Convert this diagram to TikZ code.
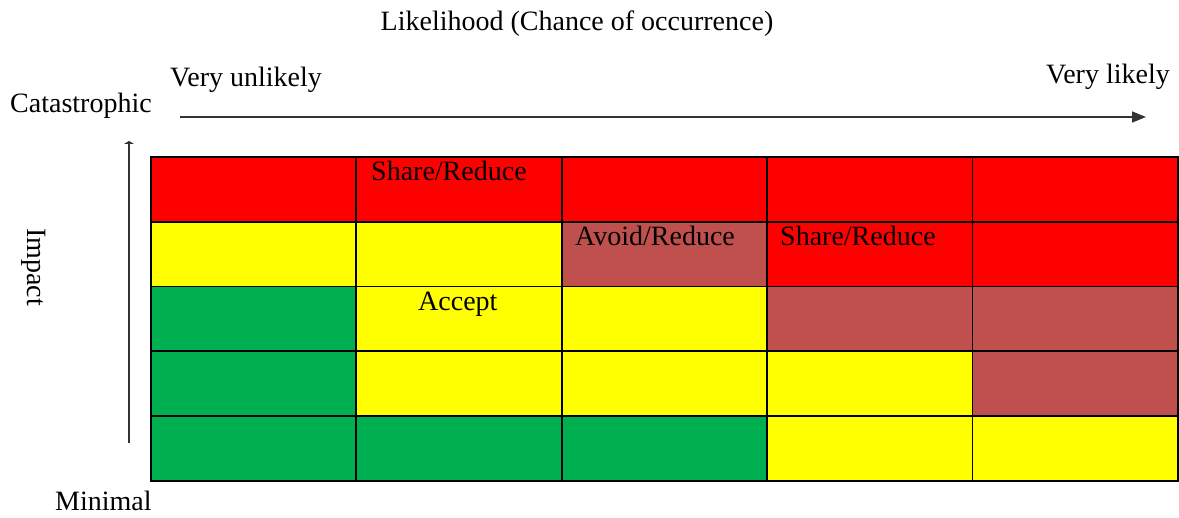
\documentclass[tikz,border=0pt]{standalone}
\usepackage{fontspec}
\setmainfont{Liberation Serif}
\usetikzlibrary{arrows.meta}
\definecolor{cred}{HTML}{FF0000}
\definecolor{cyel}{HTML}{FFFF00}
\definecolor{cgrn}{HTML}{00B050}
\definecolor{cbrn}{HTML}{C0504D}
\definecolor{axisgray}{HTML}{333333}
\begin{document}
\begin{tikzpicture}[x=1pt,y=-1pt,
  lbl/.style={inner sep=0pt,anchor=base west,font=\fontsize{28}{32}\selectfont},
  cell/.style={draw=black,line width=1.8pt,minimum width=205.4pt,minimum height=64.8pt,inner sep=0pt,anchor=north west},
  axisline/.style={draw=axisgray,line width=1.6pt}]
\useasboundingbox (0,0) rectangle (1179,518);
\fill[white] (0,0) rectangle (1179,518);
% grid
\foreach \r/\cols in {0/{cred,cred,cred,cred,cred},1/{cyel,cyel,cbrn,cred,cred},2/{cgrn,cyel,cyel,cbrn,cbrn},3/{cgrn,cyel,cyel,cyel,cbrn},4/{cgrn,cgrn,cgrn,cyel,cyel}}{
  \foreach \c [count=\i from 0] in \cols {
    \node[cell,fill=\c] (c\r\i) at (150+\i*205.4,156+\r*64.8) {};
  }
}
% cell labels
\node[lbl] (t1) at (371,181) {Share/Reduce};
\node[lbl] (t2) at (575,246) {Avoid/Reduce};
\node[lbl] (t3) at (780,246) {Share/Reduce};
\node[lbl] (t4) at (418,311) {Accept};
% axis labels
\node[lbl,anchor=base] (title) at (577,31) {Likelihood (Chance of occurrence)};
\node[lbl] (vu) at (170,87) {Very unlikely};
\node[lbl,anchor=base east] (vl) at (1170,84) {Very likely};
\node[lbl] (cat) at (10,113) {Catastrophic};
\node[lbl] (mini) at (55,511) {Minimal};
\node[lbl,anchor=center,rotate=-90] (imp) at (34,267) {Impact};
% arrows
\coordinate (h0) at (180,117);
\coordinate (h1) at (1146,117);
\draw[axisline,-{Triangle[length=14pt,width=11pt]}] (h0) -- (h1);
\coordinate (v0) at (129,443);
\coordinate (v1) at (129,141);
\draw[axisline,-{Triangle[length=3pt,width=10pt]}] (v0) -- (v1);
\end{tikzpicture}
\end{document}
